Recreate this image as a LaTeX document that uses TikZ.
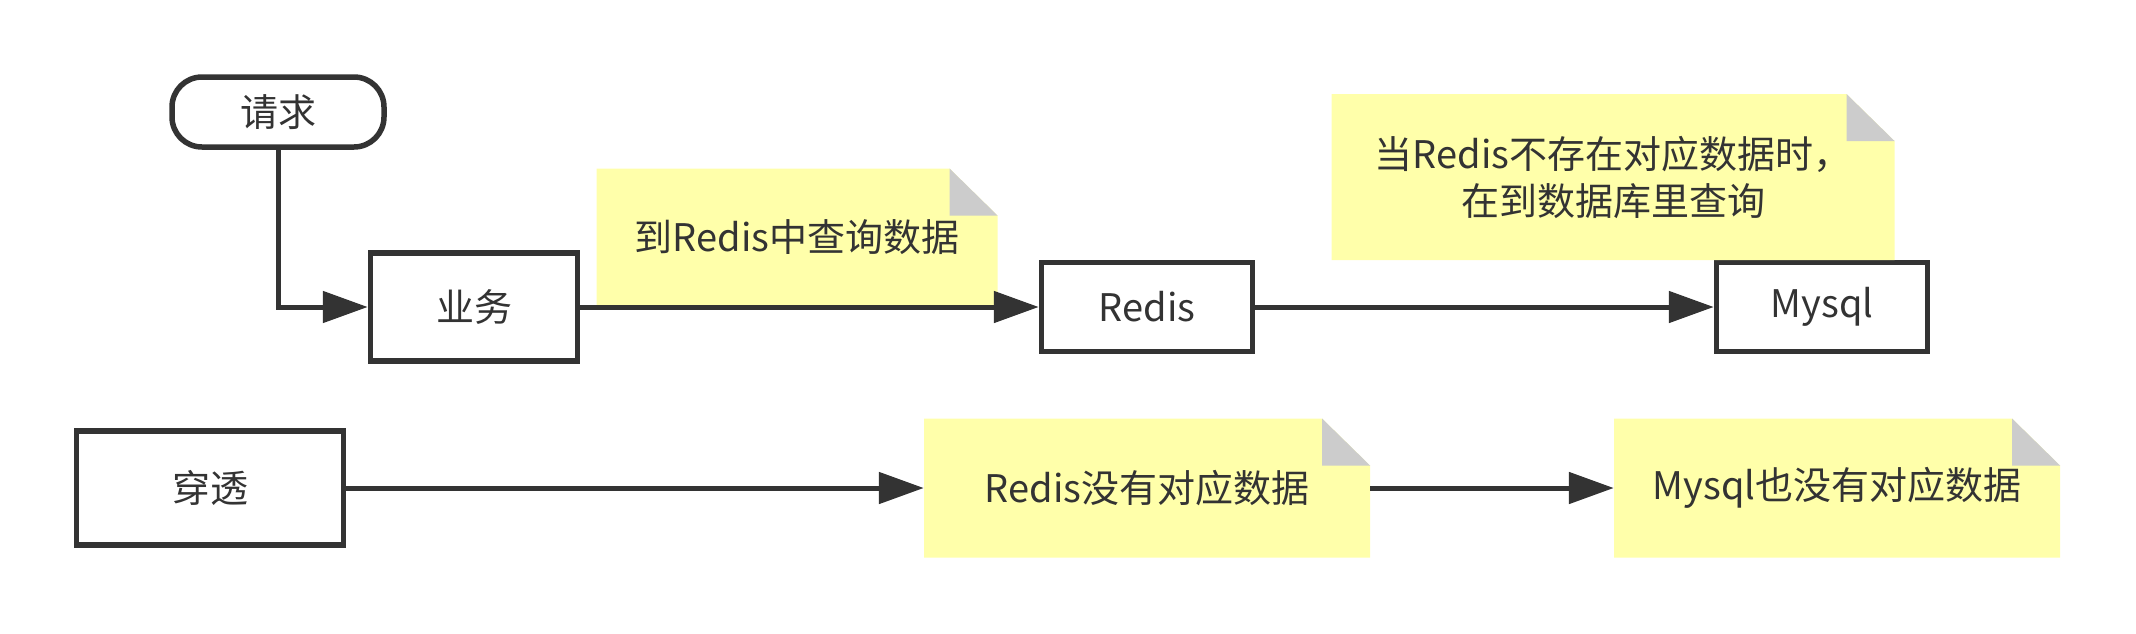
\documentclass[tikz,border=0pt]{standalone}
\usepackage{fontspec}
\setmainfont{Noto Sans CJK SC}
\usetikzlibrary{positioning, arrows.meta}
\definecolor{ink}{HTML}{333333}
\definecolor{notefill}{HTML}{FFFFAA}
\definecolor{foldfill}{HTML}{CCCCCC}
\tikzstyle{every node}=[font=\fontsize{38}{47}\selectfont, text=ink]
\tikzstyle{block}=[draw=ink, line width=5.5pt, fill=white, rectangle, inner sep=0pt, minimum width=211pt, minimum height=89pt]
\tikzstyle{start}=[block, rounded corners=30pt, minimum width=212pt, minimum height=70pt]
\tikzstyle{note}=[rectangle, fill=white, inner sep=0pt, align=center, minimum width=446pt, minimum height=139pt,
  path picture={
    \fill[notefill] (path picture bounding box.south west) -- (path picture bounding box.north west)
      -- ([xshift=-48pt]path picture bounding box.north east) -- ([yshift=-47pt]path picture bounding box.north east)
      -- (path picture bounding box.south east) -- cycle;
    \fill[foldfill] ([xshift=-48pt]path picture bounding box.north east)
      -- ([xshift=-48pt,yshift=-47pt]path picture bounding box.north east)
      -- ([yshift=-47pt]path picture bounding box.north east) -- cycle;
  }]
\tikzstyle{flow}=[draw=ink, line width=5pt]

\begin{document}
\begin{tikzpicture}[>={Triangle[length=45pt,width=31pt]}, x=1pt, y=-1pt, node distance=675pt]
    \fill[white] (0,0) rectangle (2136,633);
    \useasboundingbox (0,0) rectangle (2136,633);
    % top row
    \node[start] (req) at (278,112) {请求};
    \node[block, minimum width=207pt, minimum height=108pt] (biz) at (474,307) {业务};
    \node[block, right of=biz, node distance=673pt] (redis) {Redis};
    \node[block, right of=redis] (mysql) {Mysql};
    \node[note, minimum width=401pt, minimum height=137pt] (ask) at (797,237) {到Redis中查询数据};
    \node[note, minimum width=563pt, minimum height=166pt] (fallback) at (1613,177) {当Redis不存在对应数据时，\\在到数据库里查询};
    % bottom row
    \node[block, minimum width=267pt, minimum height=114pt] (pierce) at (210,488) {穿透};
    \node[note, right of=pierce, node distance=937pt] (miss) {Redis没有对应数据};
    \node[note, right of=miss, node distance=690pt] (dbmiss) {Mysql也没有对应数据};
    \draw[flow, ->] (req) |- (biz);
    \draw[flow, ->] (biz) -- (redis);
    \draw[flow, ->] (redis) -- (mysql);
    \draw[flow, ->] (pierce) -- (miss);
    \draw[flow, ->] (miss) -- (dbmiss);
\end{tikzpicture}
\end{document}
